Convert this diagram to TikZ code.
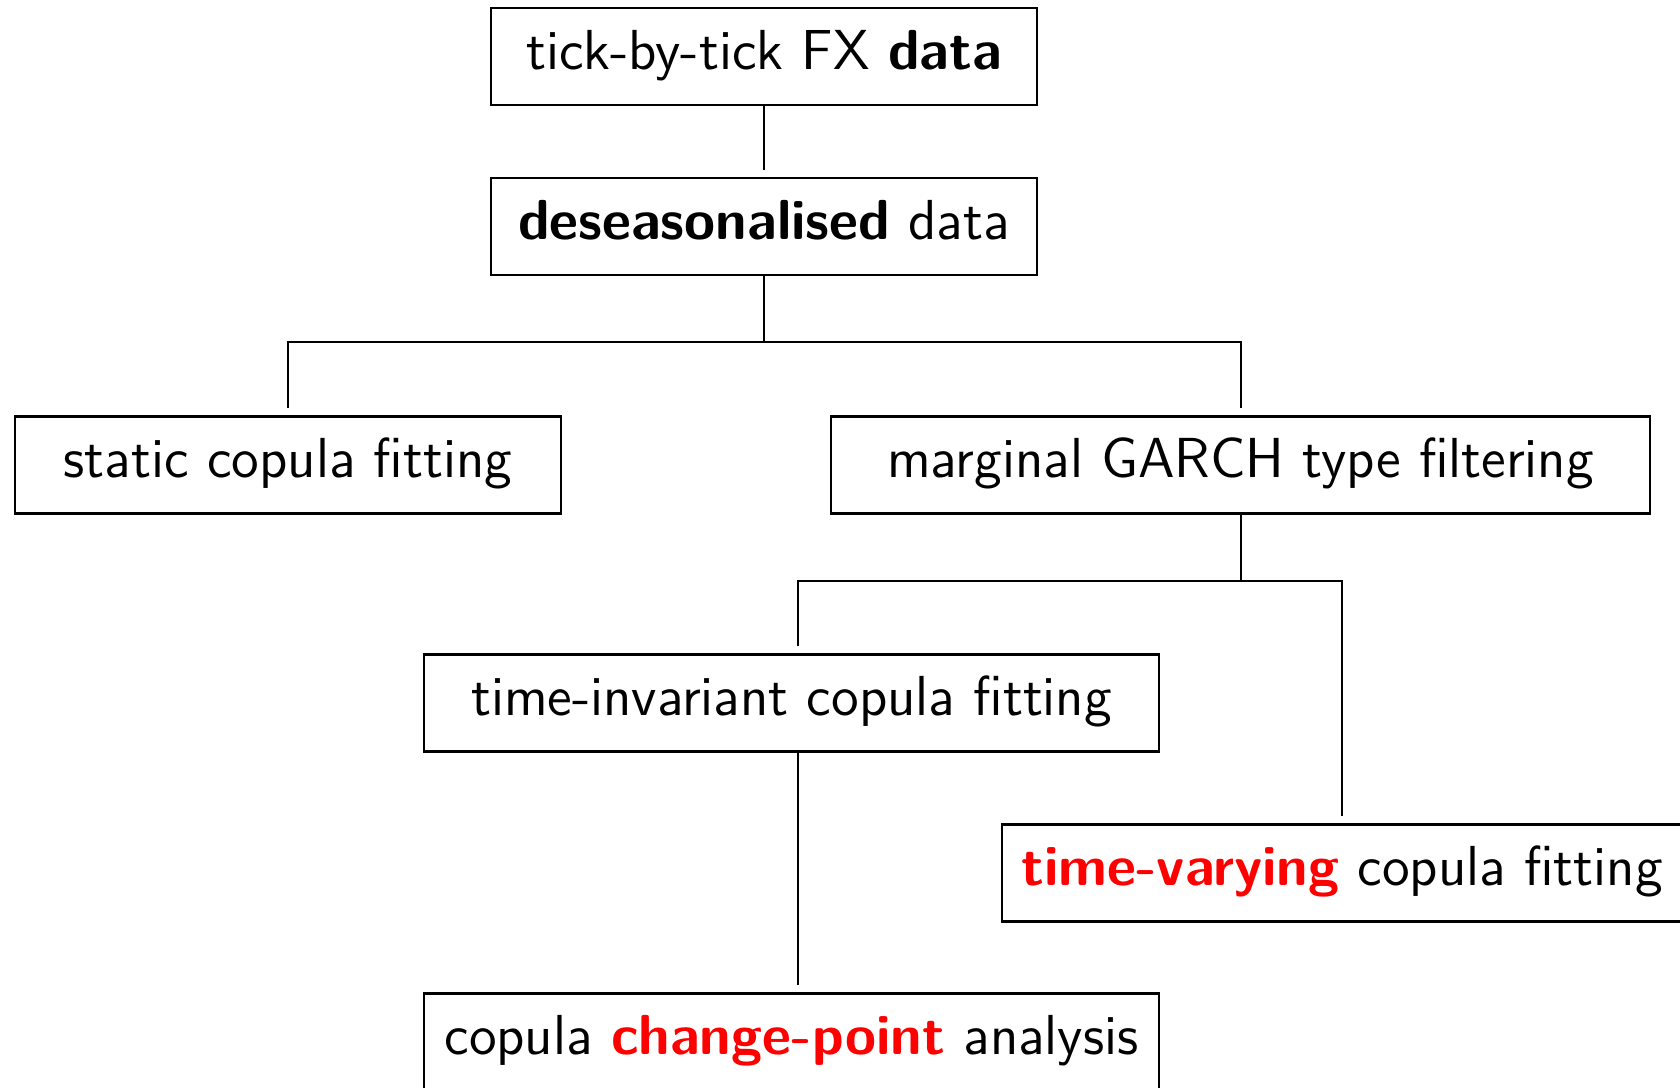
\documentclass[tikz,border=0pt]{standalone}
\usetikzlibrary{calc}
\begin{document}
\begin{tikzpicture}[x=0.25pt,y=-0.25pt,
  box/.style={draw,line width=0.55pt,minimum height=24.25pt,inner sep=0pt,
    font=\fontsize{14.1}{17}\selectfont\sffamily,text height=0.82em,text depth=0.18em,anchor=center},
  conn/.style={line width=0.5pt,shorten >=1.75pt}]
\useasboundingbox (0,0) rectangle (1680,1088);
\node[box,minimum width=136.5pt] (n1) at (764,56.5) {tick-by-tick FX \textbf{data}};
\node[box,minimum width=136.5pt] (n2) at (764,226.5) {\textbf{deseasonalised} data};
\node[box,minimum width=136.5pt] (n3) at (288,465) {static copula fitting};
\node[box,minimum width=204.75pt] (n4) at (1240.5,465) {marginal GARCH type filtering};
\node[box,minimum width=183.75pt] (n5) at (791.5,703) {time-invariant copula fitting};
\node[box,minimum width=170pt] (n6) at (1342,873) {\textcolor{red}{\textbf{time-varying}} copula fitting};
\node[box,minimum width=183.75pt] (n7) at (791.5,1042) {copula \textcolor{red}{\textbf{change-point}} analysis};
\draw[conn] (n1.south) -- (n2.north);
\draw[conn] (n2.south) -- (n2.south |- 0,342) -| (n3.north);
\draw[conn] (n2.south |- 0,342) -| (n4.north);
\draw[conn] (n4.south) -- (n4.south |- 0,581) -| ($(n5.north)+(6.5,0)$);
\draw[conn] (n4.south |- 0,581) -| (n6.north);
\draw[conn] ($(n5.south)+(6.5,0)$) -- ($(n7.north)+(6.5,0)$);
\end{tikzpicture}
\end{document}
